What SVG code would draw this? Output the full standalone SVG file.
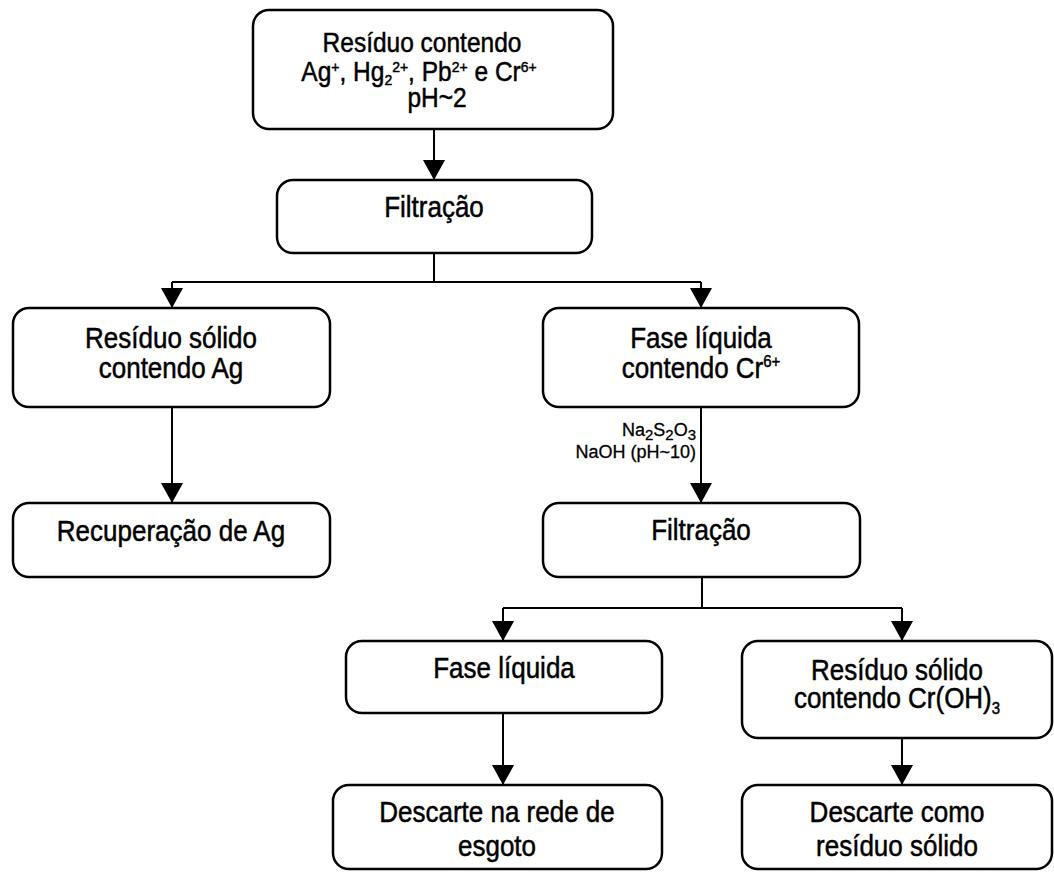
<svg xmlns="http://www.w3.org/2000/svg" width="1054" height="872" viewBox="0 0 1054 872">
  <defs>
    <marker id="arrow" viewBox="0 0 20 22" refX="20" refY="11" markerWidth="20" markerHeight="22" markerUnits="userSpaceOnUse" orient="auto">
      <path d="M0,0 L20,11 L0,22 Z" fill="#000"/>
    </marker>
    <style>
      .box { fill: #fff; stroke: #000; stroke-width: 2.5; }
      .lbl { font-family: "Liberation Sans", Arial, sans-serif; font-size: 26px; fill: #000; stroke: #000; stroke-width: 0.45; text-anchor: middle; }
      .top { font-size: 24.5px; }
      .note { font-family: "Liberation Sans", Arial, sans-serif; font-size: 18px; fill: #000; stroke: #000; stroke-width: 0.3; text-anchor: end; }
      .sm { font-size: 15px; }
      .tiny { font-size: 14px; }
      .conn { fill: none; stroke: #000; stroke-width: 2; }
      .arr { fill: none; stroke: #000; stroke-width: 2; marker-end: url(#arrow); }
    </style>
  </defs>
  <rect width="1054" height="872" fill="#fff"/>

  <!-- connectors: trunk lines, branch bars and arrowed drops -->
  <g id="connectors">
    <line class="arr" x1="434" y1="129" x2="434" y2="180"/>
    <line class="conn" x1="434" y1="253" x2="434" y2="282"/>
    <line class="conn" x1="172" y1="282" x2="701" y2="282"/>
    <line class="arr" x1="172" y1="282" x2="172" y2="308"/>
    <line class="arr" x1="701" y1="282" x2="701" y2="308"/>
    <line class="arr" x1="172" y1="407" x2="172" y2="503"/>
    <line class="arr" x1="701" y1="407" x2="701" y2="503"/>
    <line class="conn" x1="702" y1="577" x2="702" y2="608"/>
    <line class="conn" x1="503" y1="608" x2="902" y2="608"/>
    <line class="arr" x1="503" y1="608" x2="503" y2="641"/>
    <line class="arr" x1="902" y1="608" x2="902" y2="641"/>
    <line class="arr" x1="503" y1="713" x2="503" y2="785"/>
    <line class="arr" x1="902" y1="738" x2="902" y2="785"/>
    <text class="note" x="696" y="436">Na<tspan class="sm" dy="4">2</tspan><tspan dy="-4">S</tspan><tspan class="sm" dy="4">2</tspan><tspan dy="-4">O</tspan><tspan class="sm" dy="4">3</tspan></text>
    <text class="note" x="696" y="458">NaOH (pH~10)</text>
  </g>

  <g id="residuo-inicial">
    <rect class="box" x="253" y="10" width="360" height="119" rx="16"/>
    <text class="lbl top" transform="translate(422,52) scale(1,1.1)">Resíduo contendo</text>
    <text class="lbl top" transform="translate(419,81) scale(1,1.1)">Ag<tspan class="tiny" dy="-8">+</tspan><tspan dy="8">, Hg</tspan><tspan class="tiny" dy="4">2</tspan><tspan class="tiny" dy="-12">2+</tspan><tspan dy="8">, Pb</tspan><tspan class="tiny" dy="-8">2+</tspan><tspan dy="8"> e Cr</tspan><tspan class="tiny" dy="-8">6+</tspan></text>
    <text class="lbl top" transform="translate(437,107) scale(1,1.1)">pH~2</text>
  </g>

  <g id="filtracao-1">
    <rect class="box" x="277" y="180" width="315" height="73" rx="16"/>
    <text class="lbl" transform="translate(434,217) scale(1,1.12)">Filtração</text>
  </g>

  <g id="residuo-ag">
    <rect class="box" x="13" y="308" width="317" height="99" rx="16"/>
    <text class="lbl" transform="translate(171,348) scale(1,1.12)">Resíduo sólido</text>
    <text class="lbl" transform="translate(171,378) scale(1,1.12)">contendo Ag</text>
  </g>

  <g id="fase-liquida-cr">
    <rect class="box" x="543" y="308" width="316" height="99" rx="16"/>
    <text class="lbl" transform="translate(701,348) scale(1,1.12)">Fase líquida</text>
    <text class="lbl" transform="translate(701,378) scale(1,1.12)">contendo Cr<tspan class="sm" dy="-10">6+</tspan></text>
  </g>

  <g id="recuperacao-ag">
    <rect class="box" x="13" y="503" width="317" height="74" rx="16"/>
    <text class="lbl" transform="translate(171,541) scale(1,1.12)">Recuperação de Ag</text>
  </g>

  <g id="filtracao-2">
    <rect class="box" x="543" y="503" width="317" height="74" rx="16"/>
    <text class="lbl" transform="translate(701,540) scale(1,1.12)">Filtração</text>
  </g>

  <g id="fase-liquida">
    <rect class="box" x="346" y="641" width="316" height="72" rx="16"/>
    <text class="lbl" transform="translate(504,678) scale(1,1.12)">Fase líquida</text>
  </g>

  <g id="residuo-croh3">
    <rect class="box" x="742" y="641" width="310" height="97" rx="16"/>
    <text class="lbl" transform="translate(897,680) scale(1,1.12)">Resíduo sólido</text>
    <text class="lbl" transform="translate(897,708) scale(1,1.12)">contendo Cr(OH)<tspan class="sm" dy="5">3</tspan></text>
  </g>

  <g id="descarte-esgoto">
    <rect class="box" x="333" y="785" width="329" height="84" rx="16"/>
    <text class="lbl" transform="translate(497,822) scale(1,1.12)">Descarte na rede de</text>
    <text class="lbl" transform="translate(497,856) scale(1,1.12)">esgoto</text>
  </g>

  <g id="descarte-solido">
    <rect class="box" x="742" y="785" width="310" height="84" rx="16"/>
    <text class="lbl" transform="translate(897,822) scale(1,1.12)">Descarte como</text>
    <text class="lbl" transform="translate(897,856) scale(1,1.12)">resíduo sólido</text>
  </g>
</svg>
